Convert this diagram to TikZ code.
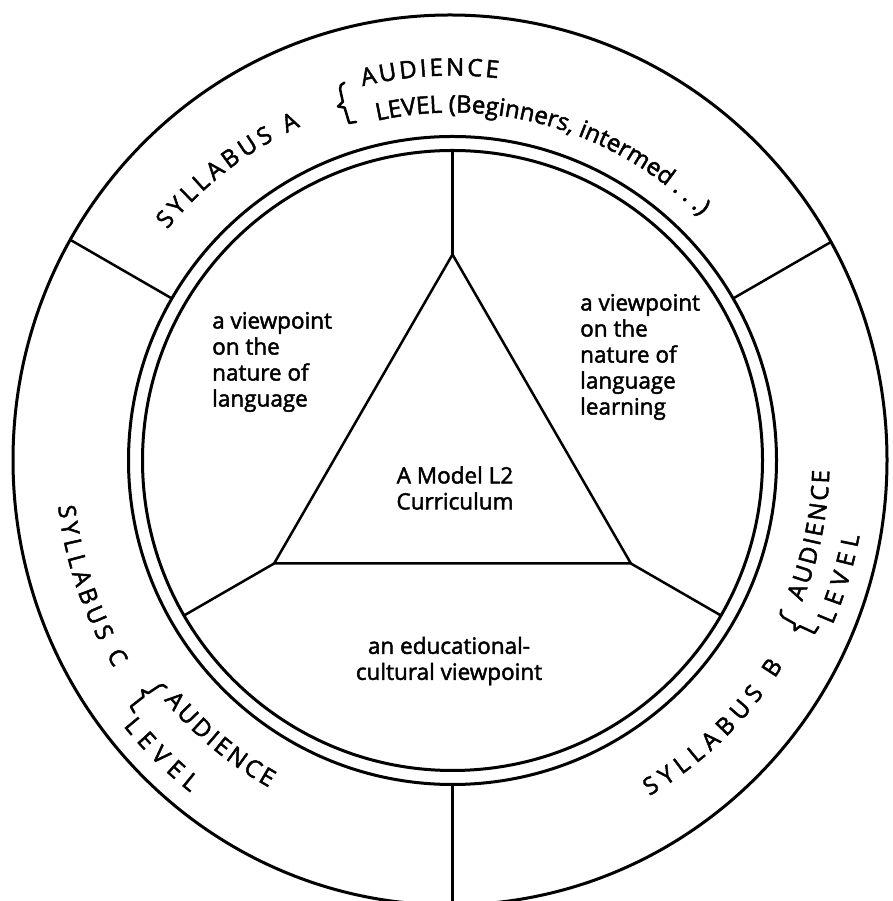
\documentclass[tikz,border=0pt]{standalone}
\usepackage{fontspec}
\setmainfont{Open Sans}[FakeBold=2]
\usepackage{tikz}
\usetikzlibrary{calc,decorations.text}
\newcommand{\ringfont}{\fontsize{24}{24}\selectfont}
\tikzset{
  rim/.style={draw=black, line width=3pt},
  edge/.style={draw=black, line width=2.5pt, line cap=round},
  note/.style={align=left, inner sep=0pt, font=\fontsize{22.5}{26}\selectfont},
  ringtext/.style={decorate, decoration={text along path, text align={fit to path}, text={|\ringfont|#1}}},
  leveltext/.style={decorate, decoration={text along path, text align=left, text={|\ringfont|#1}}},
  curl/.pic={
    \draw[edge, line join=round] (7,21) to[out=180, in=90] (1,16) -- (0,3) -- (-6,0) -- (0,-3) -- (0,-19) -- (7,-20);
  }
}

\begin{document}
\begin{tikzpicture}[x=1pt, y=1pt]
  \useasboundingbox (0,0) rectangle (892,901);
  \clip (0,0) rectangle (892,901);
  \coordinate (c) at (452.5,440.5);
  \coordinate (oc) at (450,441);

  % spokes across the outer band
  \begin{scope}
    \clip (oc) ellipse[x radius=437, y radius=445];
    \foreach \a/\n in {150/1, 30/2, 270/3} {
      \coordinate (o\n) at ($(c)+(\a:324)$);
      \coordinate (e\n) at ($(c)+(\a:470)$);
      \draw[edge] (o\n) -- (e\n);
    }
  \end{scope}

  % triangle and its spokes to the inner ring
  \foreach \a/\n in {90/1, 210/2, 330/3} {
    \coordinate (t\n) at ($(c)+(\a:206)$);
    \coordinate (i\n) at ($(c)+(\a:310)$);
    \draw[edge] (t\n) -- (i\n);
  }
  \draw[edge, line join=round] (t1) -- (t2) -- (t3) -- cycle;

  \draw[rim] (oc) ellipse[x radius=437, y radius=445];
  \draw[rim] (c) circle[radius=324];
  \draw[rim] (c) circle[radius=310];

  \node[note, anchor=west] (lang) at (212,539) {a viewpoint\\on the\\nature of\\language};
  \node[note, anchor=west] (learn) at (580,544) {a viewpoint\\on the\\nature of\\language\\learning};
  \node[note, align=center] (core) at (455,413) {A Model L2\\Curriculum};
  \node[note, align=center] (edu) at (449,240) {an educational-\\cultural viewpoint};

  % texts round the band
  \begin{scope}[shift={(c)}]
    \path[ringtext={SYLLABUS A}] (141:367) arc[start angle=141, end angle=114.5, radius=367];
    \path[ringtext={AUDIENCE}] (103.5:385) arc[start angle=103.5, end angle=83.2, radius=385];
    \path[leveltext={LEVEL (Beginners, intermed . . .)}] (102.5:348) arc[start angle=102.5, end angle=20, radius=348];
    \pic[rotate=16.7] at (107:372) {curl};

    \path[ringtext={SYLLABUS B}] (-59.6:389) arc[start angle=-59.6, end angle=-31.8, radius=389];
    \path[ringtext={AUDIENCE}] (-22:377) arc[start angle=-22, end angle=-1.5, radius=377];
    \path[ringtext={LEVEL}] (-23.4:414) arc[start angle=-23.4, end angle=-10.5, radius=414];
    \pic[rotate=65] at (-25.5:382) {curl};

    \path[ringtext={SYLLABUS C}] (186.6:397) arc[start angle=186.6, end angle=211.5, radius=397];
    \path[ringtext={AUDIENCE}] (219.7:375) arc[start angle=219.7, end angle=240.7, radius=375];
    \path[ringtext={LEVEL}] (218.9:423) arc[start angle=218.9, end angle=231.7, radius=423];
    \pic[rotate=307.9] at (217.4:386) {curl};
  \end{scope}
\end{tikzpicture}
\end{document}
